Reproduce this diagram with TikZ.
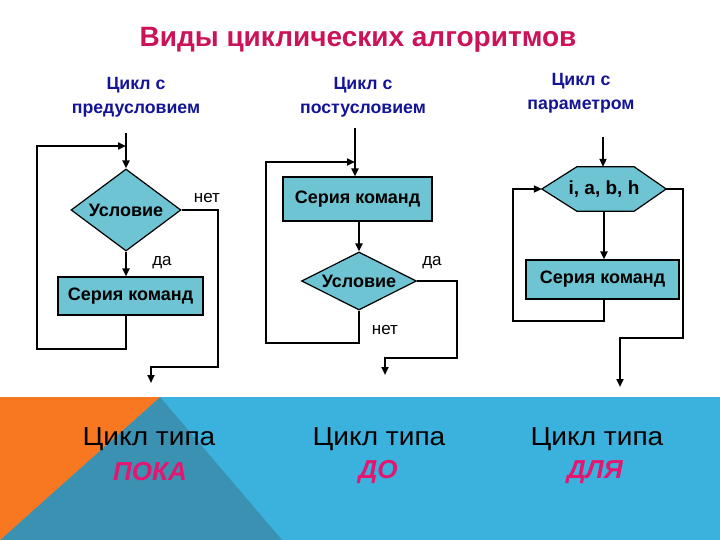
\documentclass[tikz,border=0pt]{standalone}
\usepackage{fontspec}
\setmainfont{Liberation Sans}
\newfontfamily\wideface[FakeStretch=1.08]{Liberation Sans}
\usetikzlibrary{shapes.geometric,arrows.meta}
\definecolor{titlecol}{RGB}{204,18,88}
\definecolor{subcol}{RGB}{20,20,150}
\definecolor{boxfill}{RGB}{110,196,210}
\definecolor{bandlight}{RGB}{58,178,221}
\definecolor{banddark}{RGB}{58,145,178}
\definecolor{bandorange}{RGB}{247,120,32}
\definecolor{pinkcol}{RGB}{228,22,112}
\begin{document}
\begin{tikzpicture}[x=1pt,y=-1pt,
  flow/.style={draw=black,line width=2pt},
  arr/.style={flow,-{Triangle[length=8pt,width=7pt]}},
  box/.style={draw=black,line width=1.2pt,fill=boxfill,inner sep=0pt,font=\bfseries\fontsize{18}{21}\selectfont},
  dia/.style={diamond,box},
  lbl/.style={font=\fontsize{17}{20}\selectfont},
  titlestyle/.style={font=\bfseries\fontsize{28}{32}\selectfont,text=titlecol},
  sub/.style={font=\bfseries\fontsize{17.7}{24}\selectfont,text=subcol,align=center},
  big/.style={font=\wideface\fontsize{26}{30}\selectfont,text=black},
  kind/.style={font=\bfseries\itshape\fontsize{26}{30}\selectfont,text=pinkcol}]
\useasboundingbox (0,0) rectangle (720,540);
\fill[white] (0,0) rectangle (720,540);
% bottom band
\fill[bandlight] (0,397) rectangle (720,540);
\fill[banddark] (160,397) -- (282,540) -- (0,540) -- cycle;
\fill[bandorange] (0,397) -- (160,397) -- (0,540) -- cycle;
% headings
\node[titlestyle] (title) at (358,40) {Виды циклических алгоритмов};
\node[sub] (s1) at (136,97) {Цикл с\\предусловием};
\node[sub] (s2) at (363,97) {Цикл с\\постусловием};
\node[sub] (s3) at (581,93) {Цикл с\\параметром};
% diagram 1: while
\coordinate (in1) at (126,133);
\coordinate (j1) at (126,146);
\coordinate (o1) at (151,383);
\node[dia,aspect=1.34,minimum width=110pt,minimum height=82pt] (c1) at (126,210) {Условие};
\node[box,minimum width=145pt,minimum height=38pt] (r1) at (130.5,296) {Серия команд};
\draw[flow] (in1) -- (j1);
\draw[arr] (j1) -- (c1.north);
\draw[arr] (c1.south) -- (c1.south |- r1.north);
\draw[arr] (c1.south |- r1.south) -- (126,349) -| (37,146) -- (j1);
\draw[arr] (c1.east) -- (218,210) -- (218,367) -| (o1);
\node[lbl] (n1) at (207,198) {нет};
\node[lbl] (y1) at (162,263) {да};
% diagram 2: do-while
\coordinate (in2) at (355,128);
\coordinate (j2) at (355,162);
\coordinate (o2) at (385,375);
\node[box,minimum width=149pt,minimum height=44pt] (r2) at (357.5,199) {Серия команд};
\node[dia,aspect=2,minimum width=115pt,minimum height=58pt] (c2) at (359,281) {Условие};
\draw[flow] (in2) -- (j2);
\draw[arr] (j2) -- (j2 |- r2.north);
\draw[arr] (c2.north |- r2.south) -- (c2.north);
\draw[arr] (c2.south) -- (359,343) -| (266,162) -- (j2);
\draw[arr] (c2.east) -- (457,281) -- (457,358) -| (o2);
\node[lbl] (y2) at (432,263) {да};
\node[lbl] (n2) at (385,330) {нет};
% diagram 3: for
\coordinate (in3) at (603,137);
\coordinate (o3) at (620,387);
\node[inner sep=0pt,minimum width=124pt,minimum height=44pt] (h3) at (604,189) {};
\draw[draw=black,line width=1.2pt,fill=boxfill] (h3.west) -- ([xshift=35pt]h3.north west) -- ([xshift=-32pt]h3.north east) -- (h3.east) -- ([xshift=-32pt]h3.south east) -- ([xshift=35pt]h3.south west) -- cycle;
\node[font=\bfseries\fontsize{19}{22}\selectfont] (h3t) at (h3) {i, a, b, h};
\node[box,minimum width=153pt,minimum height=39pt] (r3) at (602.5,279.5) {Серия команд};
\draw[arr] (in3) -- (in3 |- h3.north);
\draw[arr] (h3.south) -- (h3.south |- r3.north);
\draw[arr] (h3.south |- r3.south) -- (604,321) -| (513,189) -- (h3.west);
\draw[arr] (h3.east) -- (683,189) -- (683,338) -| (o3);
% bottom captions
\node[big] (t1) at (149,439) {Цикл типа};
\node[kind] (k1) at (150,472) {ПОКА};
\node[big] (t2) at (379,439) {Цикл типа};
\node[kind] (k2) at (378,472) {ДО};
\node[big] (t3) at (597,439) {Цикл типа};
\node[kind] (k3) at (595,472) {ДЛЯ};
\end{tikzpicture}
\end{document}
